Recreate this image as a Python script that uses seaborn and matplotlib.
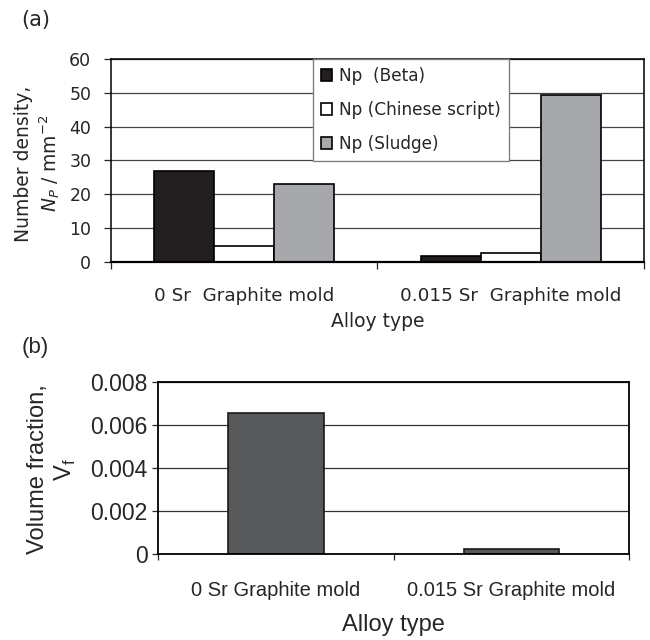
import pandas as pd
import seaborn as sns
import matplotlib.pyplot as plt

# data
alloys = ['0 Sr  Graphite mold', '0.015 Sr  Graphite mold']
phases = ['Np  (Beta)', 'Np (Chinese script)', 'Np (Sludge)']
beta = [26.9, 1.7]
chinese = [4.7, 2.7]
sludge = [23.0, 49.4]

alloys_b = ['0 Sr Graphite mold', '0.015 Sr Graphite mold']
vol_frac = [0.00653, 0.00022]

sns.set_theme(style='white')
plt.rcParams['font.family'] = ['DejaVu Sans']

FA = 'DejaVu Sans'
FB = ['Liberation Sans', 'DejaVu Sans']
FB_NARROW = ['Liberation Sans Narrow', 'Liberation Sans', 'DejaVu Sans']

dens = pd.DataFrame({
    'alloy': alloys * 3,
    'phase': [p for p in phases for _ in alloys],
    'value': beta + chinese + sludge,
})
vf = pd.DataFrame({'alloy': alloys_b, 'value': vol_frac})

fig = plt.figure(figsize=(6.5, 6.4), dpi=100)
ax1 = fig.add_axes([0.1703, 0.5911, 0.8205, 0.3163])
ax2 = fig.add_axes([0.2435, 0.1344, 0.7246, 0.2692])

# ---- panel (a): number density
pal = dict(zip(phases, ['#231f20', 'white', '#a6a8ab']))
sns.barplot(data=dens, x='alloy', y='value', hue='phase', palette=pal, width=0.675,
            edgecolor='black', linewidth=1.2, ax=ax1, saturation=1)
ax1.set_ylim(0, 60)
ax1.set_yticks(range(0, 61, 10))
ax1.set_xlim(-0.5, 1.5)
ax1.yaxis.grid(True, color='#444444', linewidth=0.9)
ax1.set_axisbelow(True)
ax1.set_xlabel('Alloy type', fontsize=13.5, labelpad=5, family=FA)
ax1.set_ylabel('Number density,\n$N_P$ / mm$^{\\mathregular{-2}}$', fontsize=13.5, family=FA)
ax1.yaxis.label.set_va('center')
ax1.yaxis.set_label_coords(-0.1363, 0.485)
ax1.tick_params(axis='y', labelsize=12.5, length=5, pad=9, direction='out', left=True, width=0.9)
ax1.tick_params(axis='x', which='major', labelsize=13.2, length=0, pad=18.5)
ax1.set_xticks([-0.5, 0.5, 1.5], minor=True)
ax1.tick_params(axis='x', which='minor', length=5, direction='out', bottom=True, width=0.9)
for s in ax1.spines.values():
    s.set_color('black')
    s.set_linewidth(1.1)
ax1.spines['bottom'].set_linewidth(1.6)

leg = ax1.legend(loc='upper left', bbox_to_anchor=(0.3793, 1.0), borderaxespad=0,
                 prop={'family': FA, 'size': 12.2},
                 handlelength=0.7, handleheight=0.7, handletextpad=0.4,
                 labelspacing=0.95, borderpad=0.45, fancybox=False, framealpha=1)
leg.get_frame().set_edgecolor('#808080')
leg.get_frame().set_linewidth(1.0)
leg.set_zorder(5)

# ---- panel (b): volume fraction
sns.barplot(data=vf, x='alloy', y='value', color='#58595b', width=0.405,
            edgecolor='#1a1a1a', linewidth=1.2, ax=ax2, saturation=1)
ax2.set_ylim(0, 0.008)
ax2.set_yticks([0, 0.002, 0.004, 0.006, 0.008])
ax2.set_yticklabels(['0', '0.002', '0.004', '0.006', '0.008'])
ax2.set_xlim(-0.5, 1.5)
ax2.yaxis.grid(True, color='#333333', linewidth=0.9)
ax2.set_axisbelow(True)
ax2.set_xlabel('Alloy type', fontsize=17, labelpad=10, family=FB)
ax2.set_ylabel('Volume fraction,\nV$_\\mathregular{f}$', fontsize=17, family=FB)
ax2.yaxis.label.set_va('center')
ax2.yaxis.set_label_coords(-0.2236, 0.49)
ax2.tick_params(axis='y', labelsize=16.5, length=4.5, pad=3, direction='out', left=True, width=0.9)
ax2.tick_params(axis='x', which='major', labelsize=14.5, length=0, pad=19.5)
ax2.set_xticks([-0.5, 0.5, 1.5], minor=True)
ax2.tick_params(axis='x', which='minor', length=4.5, direction='out', bottom=True, width=0.9)
plt.setp(ax2.get_yticklabels(), family=FB)
plt.setp(ax2.get_xticklabels(), family=FB_NARROW)
for s in ax2.spines.values():
    s.set_color('black')
    s.set_linewidth(1.3)

fig.text(21 / 650, 1 - 20 / 640, '(a)', fontsize=15, va='center', family=FA)
fig.text(22 / 650, 1 - 347 / 640, '(b)', fontsize=16, va='center', family=FB)

fig.savefig('out.png', dpi=100, facecolor='white')
